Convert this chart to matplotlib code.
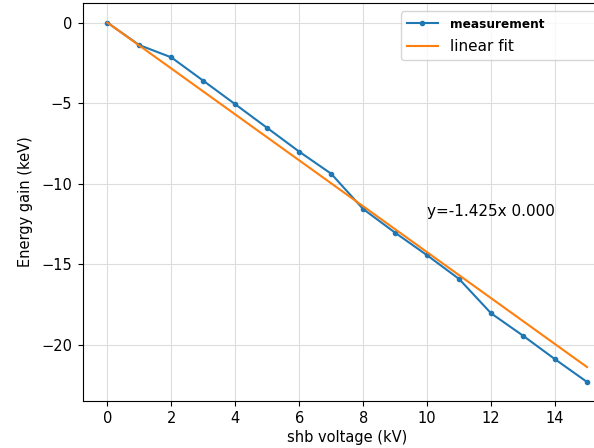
import matplotlib
matplotlib.use("Agg")
import matplotlib.pyplot as plt
import numpy as np

# shb voltage (kV) and measured energy gain (keV)
voltage = [0, 1, 2, 3, 4, 5, 6, 7, 8, 9, 10, 11, 12, 13, 14, 15]
energy_gain = [0.0, -1.40, -2.16, -3.61, -5.07, -6.54, -8.01, -9.38,
               -11.57, -13.04, -14.44, -15.91, -18.04, -19.43, -20.89, -22.30]

# linear fit parameters
fit_slope = -1.425
fit_intercept = 0.000

plt.rcParams["font.size"] = 10.5
plt.rcParams["ytick.major.pad"] = 4.5
plt.rcParams["xtick.major.pad"] = 4.0

fig = plt.figure(figsize=(5.94, 4.48), dpi=100)
# axes runs past the right edge, as in the (cropped) reference
ax = fig.add_axes([83.3 / 594, (448 - 400.5) / 448, (611 - 83.3) / 594, (400.5 - 3.5) / 448])

x = np.asarray(voltage, dtype=float)
ax.plot(x, energy_gain, marker=".", label="measurement")
ax.plot(x, fit_slope * x + fit_intercept, label="linear fit")
ax.text(10, -12, f"y={fit_slope:.3f}x {fit_intercept:.3f}", fontsize=11)

ax.set_xlabel("shb voltage (kV)", labelpad=3)
ax.set_ylabel("Energy gain (keV)", labelpad=6)
ax.set_xticks(range(0, 16, 2))
ax.set_xlim(-0.75, 15.75)
ax.set_ylim(-23.45, 1.18)
ax.grid(True, color="#dddddd")

# legend box runs off the right edge in the reference
leg = ax.legend(loc="upper left", mode="expand",
                bbox_to_anchor=(401 / 594, (448 - 11.5) / 448, 205 / 594, 0),
                bbox_transform=fig.transFigure, borderaxespad=0, fontsize=11)
leg.get_texts()[0].set_fontweight("bold")
leg.get_texts()[0].set_fontsize(8.7)

fig.savefig("out.png", dpi=100)
